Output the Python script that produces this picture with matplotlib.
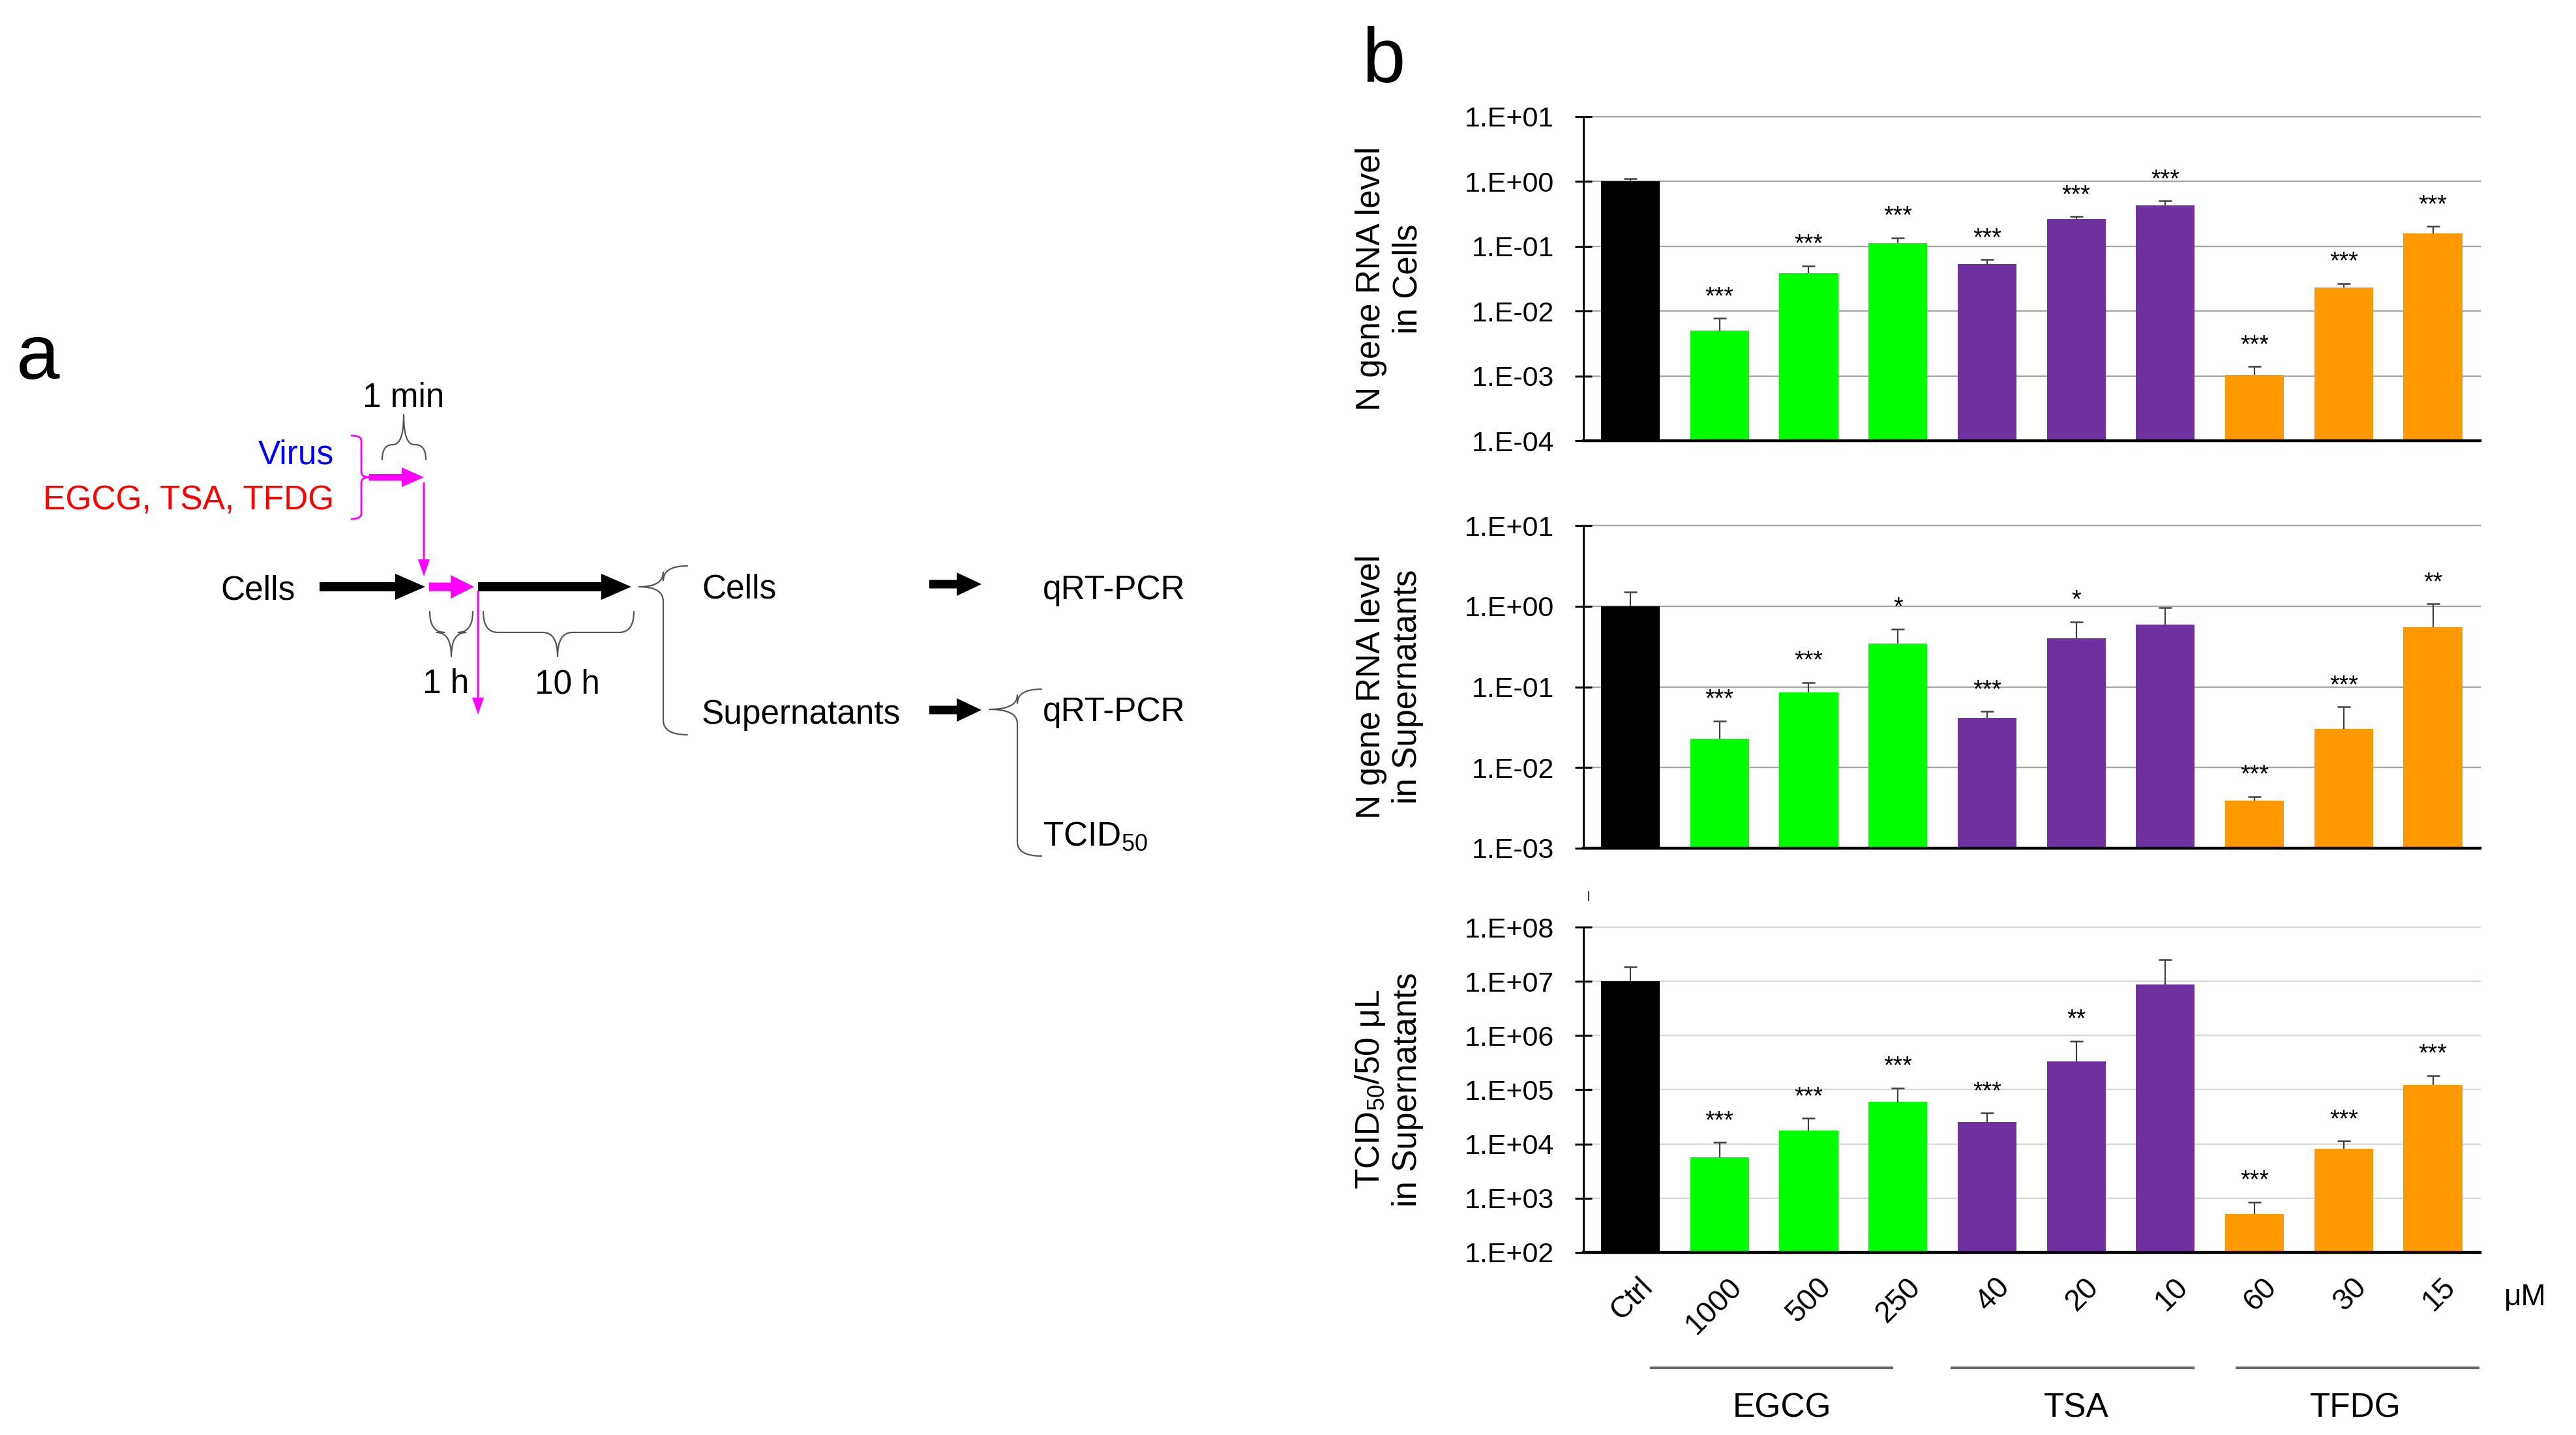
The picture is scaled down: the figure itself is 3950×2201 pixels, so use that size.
import matplotlib
matplotlib.use('Agg')
import matplotlib.pyplot as plt
import numpy as np
from matplotlib.path import Path
from matplotlib.patches import PathPatch, FancyArrow
from matplotlib.ticker import FixedLocator, FuncFormatter, NullLocator
import matplotlib.transforms as mtransforms

plt.rcParams['font.family'] = ['Liberation Sans', 'DejaVu Sans']
plt.rcParams['mathtext.fontset'] = 'custom'
plt.rcParams['mathtext.rm'] = 'Liberation Sans'
plt.rcParams['mathtext.it'] = 'Liberation Sans:italic'
plt.rcParams['mathtext.bf'] = 'Liberation Sans:bold'

# ---------------- data ----------------
categories = ['Ctrl', '1000', '500', '250', '40', '20', '10', '60', '30', '15']
groups = ['EGCG', 'TSA', 'TFDG']
bar_colors = ['#000000'] + ['#00ff00'] * 3 + ['#7030a0'] * 3 + ['#ff9900'] * 3

cells_mean = [1.0, 0.0050, 0.0385, 0.113, 0.0537, 0.261, 0.432, 0.00103, 0.0231, 0.160]
cells_sd = [0.12, 0.0028, 0.0115, 0.023, 0.0087, 0.027, 0.068, 0.00036, 0.0037, 0.044]
cells_sig = ['', '***', '***', '***', '***', '***', '***', '***', '***', '***']

sup_mean = [1.0, 0.0226, 0.0848, 0.342, 0.0413, 0.401, 0.591, 0.0039, 0.0301, 0.551]
sup_sd = [0.50, 0.0153, 0.029, 0.181, 0.0085, 0.239, 0.373, 0.00047, 0.0265, 0.52]
sup_sig = ['', '***', '***', '*', '***', '*', '', '***', '***', '**']

tcid_mean = [1.0e7, 5.7e3, 1.75e4, 6.06e4, 2.56e4, 3.35e5, 8.77e6, 510, 8.24e3, 1.23e5]
tcid_sd = [8.4e6, 5.1e3, 1.23e4, 4.8e4, 1.18e4, 4.58e5, 1.65e7, 343, 3.06e3, 6.0e4]
tcid_sig = ['', '***', '***', '***', '***', '**', '', '***', '***', '***']

unit_label = 'μM'

# ---------------- figure ----------------
W, H = 3950, 2201
fig = plt.figure(figsize=(W / 100, H / 100), dpi=100)

# overlay axes in pixel coordinates (for schematic panel a and annotations)
ax0 = fig.add_axes([0, 0, 1, 1])
ax0.set_xlim(0, W)
ax0.set_ylim(H, 0)
ax0.axis('off')

AX_LEFT = 2428 / W
AX_WIDTH = 1375 / W
XLIM = (-0.527, 9.53)


def panel(top_px, bot_px, means, sds, sigs, ylo, yhi, ylabel, gridcolor):
    rect = [AX_LEFT, 1 - bot_px / H, AX_WIDTH, (bot_px - top_px) / H]
    ax = fig.add_axes(rect)
    ax.patch.set_alpha(0)
    x = np.arange(len(categories))
    means = np.array(means)
    tops = means + np.array(sds)
    ax.set_yscale('log')
    ax.bar(x, means - ylo, bottom=ylo, width=0.66, color=bar_colors, zorder=2)
    ax.vlines(x, means, tops, color='#404040', lw=1.6, zorder=3)
    ax.plot(x, tops, linestyle='none', marker='_', markersize=14, mew=1.8,
            color='#404040', zorder=3)
    ax.set_ylim(ylo, yhi)
    ax.set_xlim(*XLIM)
    e0, e1 = int(round(np.log10(ylo))), int(round(np.log10(yhi)))
    decades = [10.0 ** e for e in range(e0, e1 + 1)]
    for d in decades[1:]:
        ax.axhline(d, color=gridcolor, lw=1.7, zorder=0.5, clip_on=False)
    ax.yaxis.set_major_locator(FixedLocator(decades))
    ax.yaxis.set_minor_locator(NullLocator())
    ax.yaxis.set_major_formatter(
        FuncFormatter(lambda v, p: '1.E%+03d' % int(round(np.log10(v)))))
    for s in ['top', 'right']:
        ax.spines[s].set_visible(False)
    ax.spines['left'].set_linewidth(2.2)
    ax.spines['bottom'].set_linewidth(3.2)
    ax.spines['bottom'].set_zorder(4)
    ax.tick_params(axis='y', direction='inout', length=19, width=2.2, pad=23,
                   labelsize=31)
    ax.tick_params(axis='x', length=0)
    ax.set_xticks(x)
    for i, s in enumerate(sigs):
        if s:
            ax.annotate(s, xy=(x[i], tops[i]), xytext=(0, 32),
                        textcoords='offset pixels', ha='center', va='center',
                        fontsize=27, zorder=5)
    ax.set_ylabel(ylabel, fontsize=37, linespacing=1.2)
    ax.yaxis.set_label_coords(-0.178, 0.5)
    return ax


ax1 = panel(179, 676, cells_mean, cells_sd, cells_sig, 1e-4, 1e1,
            'N gene RNA level\nin Cells', '#a6a6a6')
ax1.tick_params(axis='x', labelbottom=False)
ax2 = panel(806, 1301, sup_mean, sup_sd, sup_sig, 1e-3, 1e1,
            'N gene RNA level\nin Supernatants', '#a6a6a6')
ax2.tick_params(axis='x', labelbottom=False)
ax3 = panel(1422, 1921, tcid_mean, tcid_sd, tcid_sig, 1e2, 1e8,
            'TCID$_{50}$/50 μL\nin Supernatants', '#d9d9d9')
ax3.set_xticklabels(categories, rotation=45, ha='right', va='top',
                    rotation_mode='anchor', fontsize=33)
ax3.tick_params(axis='x', pad=22)
offset = mtransforms.ScaledTranslation(12 / 100, 0, fig.dpi_scale_trans)
for lbl in ax3.get_xticklabels():
    lbl.set_transform(lbl.get_transform() + offset)

# group lines and labels under panel 3
group_spans = [(0.22, 2.95), (3.59, 6.33), (6.79, 9.52)]
group_label_x = [1.70, 5.0, 8.13]
blend = mtransforms.blended_transform_factory(ax3.transData, ax0.transData)
for (g0, g1), gx, name in zip(group_spans, group_label_x, groups):
    ax0.plot([g0, g1], [2098, 2098], transform=blend, color='#666666', lw=3,
             solid_capstyle='butt')
    ax0.text(gx, 2160, name, transform=blend, ha='center', va='center',
             fontsize=37)

ax0.text(3872, 1990, unit_label, ha='center', va='center', fontsize=33)
ax0.plot([2436, 2436], [1368, 1381], color='#444444', lw=1.5)

# panel letters
ax0.text(58, 581, 'a', ha='center', va='baseline', fontsize=86)
ax0.text(2122, 126, 'b', ha='center', va='baseline', fontsize=86)


# ---------------- panel a schematic ----------------
def brace(a, b, m, base, e, t, orient, sign, color, lw):
    r = min(e, t, m - a, b - m) * 0.7
    pts_uv = [(a, e), (a, 0), (a + r, 0), (m - r, 0), (m, 0), (m, -t),
              (m, 0), (m + r, 0), (b - r, 0), (b, 0), (b, e)]
    codes = [Path.MOVETO, Path.CURVE3, Path.CURVE3, Path.LINETO,
             Path.CURVE3, Path.CURVE3, Path.CURVE3, Path.CURVE3,
             Path.LINETO, Path.CURVE3, Path.CURVE3]
    if orient == 'h':
        verts = [(u, base + sign * v) for u, v in pts_uv]
    else:
        verts = [(base + sign * v, u) for u, v in pts_uv]
    ax0.add_patch(PathPatch(Path(verts, codes), fill=False, edgecolor=color,
                            lw=lw, capstyle='round', joinstyle='round'))


def arrow(x0, y0, x1, y1, width, hw, hl, color):
    ax0.add_patch(FancyArrow(x0, y0, x1 - x0, y1 - y0, width=width,
                             head_width=hw, head_length=hl,
                             length_includes_head=True, color=color, lw=0))


MAG = '#ff00ff'
FS = 37

# braces
brace(586, 653, 619, 682, 23, 46, 'h', 1, '#555555', 1.6)
brace(668, 796, 732, 554, 15, 12, 'v', -1, MAG, 2.0)
brace(659, 725, 692, 970, 32, 37, 'h', -1, '#555555', 1.6)
brace(741, 972, 855, 970, 32, 37, 'h', -1, '#555555', 1.6)
brace(868, 1127, 900, 1017, 37, 37, 'v', 1, '#555555', 1.6)
brace(1057, 1313, 1088, 1560, 37, 43, 'v', 1, '#555555', 1.6)

# arrows
arrow(566, 732, 650, 732, 10, 30, 34, MAG)
arrow(650, 740, 650, 884, 3, 18, 26, MAG)
arrow(490, 900, 652, 900, 14, 40, 46, '#000000')
arrow(658, 900, 727, 900, 13, 36, 36, MAG)
arrow(733, 906, 733, 1096, 3, 18, 26, MAG)
arrow(733, 900, 968, 900, 14, 40, 46, '#000000')
arrow(1425, 896, 1505, 896, 13, 36, 38, '#000000')
arrow(1425, 1089, 1505, 1089, 13, 36, 38, '#000000')

# texts
ax0.text(619, 624, '1 min', ha='center', va='baseline', fontsize=FS)
ax0.text(512, 712, 'Virus', ha='right', va='baseline', fontsize=FS,
         color='#0000ff')
ax0.text(512, 782, 'EGCG, TSA, TFDG', ha='right', va='baseline', fontsize=FS,
         color='#ff0000')
ax0.text(453, 919, 'Cells', ha='right', va='baseline', fontsize=FS)
ax0.text(684, 1063, '1 h', ha='center', va='baseline', fontsize=FS)
ax0.text(870, 1063, '10 h', ha='center', va='baseline', fontsize=FS)
ax0.text(1076, 917, 'Cells', ha='left', va='baseline', fontsize=FS)
ax0.text(1076, 1110, 'Supernatants', ha='left', va='baseline', fontsize=FS)
ax0.text(1599, 919, 'qRT-PCR', ha='left', va='baseline', fontsize=FS)
ax0.text(1599, 1106, 'qRT-PCR', ha='left', va='baseline', fontsize=FS)
ax0.text(1599, 1297, 'TCID$_{50}$', ha='left', va='baseline', fontsize=FS)

fig.savefig('out.png', dpi=100)
